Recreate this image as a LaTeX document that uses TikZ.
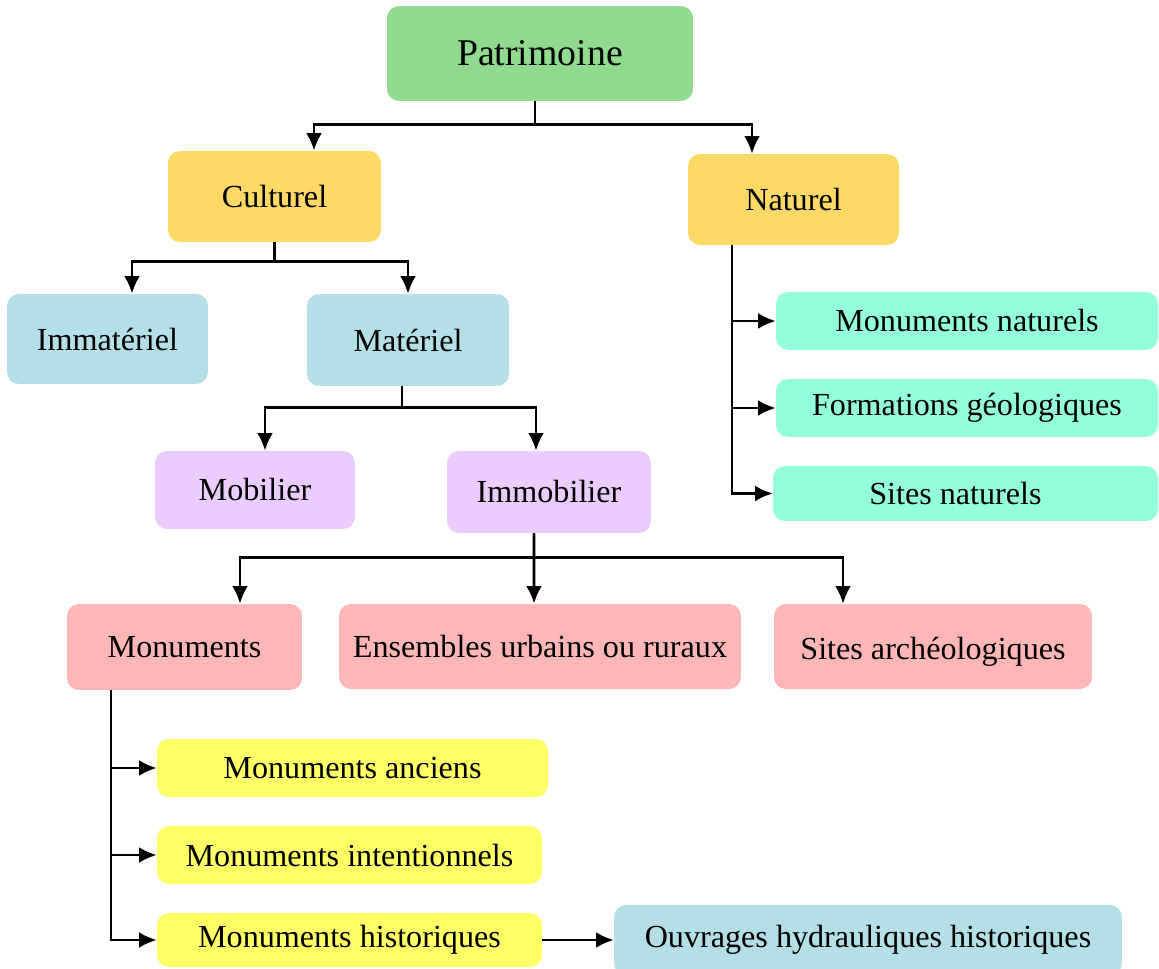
\documentclass[tikz,border=0pt]{standalone}
\usepackage{fontspec}
\setmainfont{Liberation Serif}
\usetikzlibrary{arrows.meta}
\definecolor{vert}{RGB}{145,219,144}
\definecolor{orange}{RGB}{255,217,102}
\definecolor{bleu}{RGB}{180,223,231}
\definecolor{lavande}{RGB}{235,204,255}
\definecolor{rose}{RGB}{255,182,182}
\definecolor{aqua}{RGB}{148,255,219}
\definecolor{jaune}{RGB}{255,255,102}
\begin{document}
\begin{tikzpicture}[x=0.02cm,y=-0.02cm,
    boite/.style={rounded corners=0.24cm, inner sep=0pt, font=\fontsize{18.3}{20}\selectfont},
    fleche/.style={->,>={Latex[length=10pt,width=9pt]}, line width=1.5pt}]
      \useasboundingbox (0,0) rectangle (1159,969);
      \node[boite, fill=vert, minimum width=6.12cm, minimum height=1.9cm, font=\fontsize{21.5}{24}\selectfont] (patri) at (540,53.5) {Patrimoine};
      \node[boite, fill=orange, minimum width=4.26cm, minimum height=1.82cm] (cult) at (274.5,196.5) {Culturel};
      \node[boite, fill=orange, minimum width=4.22cm, minimum height=1.82cm] (nat) at (793.5,199.5) {Naturel};
      \node[boite, fill=bleu, minimum width=4.02cm, minimum height=1.8cm] (immat) at (107.5,339) {Immatériel};
      \node[boite, fill=bleu, minimum width=4.04cm, minimum height=1.84cm] (mat) at (408,340) {Matériel};
      \node[boite, fill=lavande, minimum width=4cm, minimum height=1.56cm] (mob) at (255,490) {Mobilier};
      \node[boite, fill=lavande, minimum width=4.08cm, minimum height=1.64cm] (immob) at (549,492) {Immobilier};
      \node[boite, fill=rose, minimum width=4.7cm, minimum height=1.72cm] (monu) at (184.5,647) {Monuments};
      \node[boite, fill=rose, minimum width=8.04cm, minimum height=1.7cm] (ens) at (540,646.5) {Ensembles urbains ou ruraux};
      \node[boite, fill=rose, minimum width=6.36cm, minimum height=1.7cm] (sarch) at (933,646.5) {\raisebox{-7.5pt}[0pt][0pt]{Sites archéologiques}};
      \node[boite, fill=aqua, minimum width=7.64cm, minimum height=1.16cm] (mnat) at (967,321) {Monuments naturels};
      \node[boite, fill=aqua, minimum width=7.64cm, minimum height=1.16cm] (form) at (967,408) {Formations géologiques};
      \node[boite, fill=aqua, minimum width=7.7cm, minimum height=1.1cm] (snat) at (965.5,493.5) {\hspace*{-0.4cm}Sites naturels};
      \node[boite, fill=jaune, minimum width=7.82cm, minimum height=1.16cm] (manc) at (352.5,768) {Monuments anciens};
      \node[boite, fill=jaune, minimum width=7.7cm, minimum height=1.16cm] (mint) at (349.5,855) {Monuments intentionnels};
      \node[boite, fill=jaune, minimum width=7.7cm, minimum height=1.08cm] (mhist) at (349.5,940) {Monuments historiques};
      \node[boite, fill=bleu, minimum width=10.16cm, minimum height=1.4cm] (ouvr) at (868,940) {Ouvrages hydrauliques historiques};
      \draw[fleche] ([xshift=-0.1cm]patri.south) -- ++(0,23) -| ([xshift=0.79cm]cult.north);
      \draw[fleche] ([xshift=-0.1cm]patri.south) -- ++(0,23) -| ([xshift=-0.83cm]nat.north);
      \draw[fleche] (cult.south) -- ++(0,19) -| ([xshift=0.49cm]immat.north);
      \draw[fleche] (cult.south) -- ++(0,19) -| (mat.north);
      \draw[fleche] ([xshift=-0.12cm]mat.south) -- ++(0,21) -| ([xshift=0.2cm]mob.north);
      \draw[fleche] ([xshift=-0.12cm]mat.south) -- ++(0,21) -| ([xshift=-0.26cm]immob.north);
      \draw[fleche] ([xshift=-0.3cm]immob.south) -- ++(0,24) -| ([xshift=1.11cm]monu.north);
      \draw[fleche] ([xshift=-0.3cm]immob.south) -- ([xshift=-0.12cm]ens.north);
      \draw[fleche] ([xshift=-0.3cm]immob.south) -- ++(0,24) -| ([xshift=-1.8cm]sarch.north);
      \draw[fleche] ([xshift=-1.23cm]nat.south) |- (mnat.west);
      \draw[fleche] ([xshift=-1.23cm]nat.south) |- (form.west);
      \draw[fleche] ([xshift=-1.23cm]nat.south) |- (snat.west);
      \draw[fleche] ([xshift=-1.47cm]monu.south) |- (manc.west);
      \draw[fleche] ([xshift=-1.47cm]monu.south) |- (mint.west);
      \draw[fleche] ([xshift=-1.47cm]monu.south) |- (mhist.west);
      \draw[fleche] (mhist.east) -- (ouvr.west);
\end{tikzpicture}
\end{document}
